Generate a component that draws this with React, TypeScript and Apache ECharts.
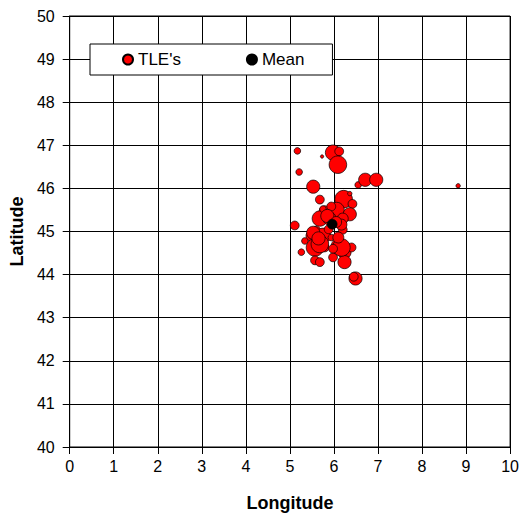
import React, { useEffect, useRef } from "react";
import * as echarts from "echarts";

// TLE points: longitude, latitude, bubble magnitude
const tleLon = [5.17, 5.73, 5.98, 6.12, 6.09, 5.21, 5.53, 6.55, 6.71, 6.96, 8.82, 5.68, 6.22, 6.36, 6.42, 5.79, 6.06, 6.36, 5.68, 5.90, 6.20, 5.11, 5.60, 6.20, 5.49, 5.75, 5.94, 5.34, 5.57, 5.79, 6.09, 6.24, 6.40, 5.26, 5.57, 5.68, 5.98, 6.24, 6.49, 6.45, 5.94, 6.17, 5.53, 5.68, 6.17, 5.75, 5.98, 5.85, 6.05, 5.65, 6.10, 5.88];
const tleLat = [46.87, 46.74, 46.83, 46.86, 46.55, 46.38, 46.04, 46.08, 46.20, 46.20, 46.06, 45.74, 45.75, 45.88, 45.64, 45.47, 45.50, 45.40, 45.30, 45.30, 45.30, 45.14, 45.02, 45.04, 44.90, 44.90, 44.86, 44.78, 44.63, 44.63, 44.67, 44.52, 44.63, 44.52, 44.33, 44.29, 44.40, 44.29, 43.91, 43.95, 45.58, 45.16, 44.97, 44.71, 44.63, 45.52, 44.60, 45.36, 45.22, 44.84, 44.86, 45.05];
const tleMag = [3, 1.5, 7, 4, 8, 3, 6, 3, 6, 6, 2, 4, 8, 2, 4, 5, 7, 6, 7, 6, 5, 4, 4, 4, 5, 7, 3, 3, 8, 4, 6, 6, 4, 3, 4, 4, 4, 6, 6, 4, 4, 5, 6, 8, 8, 3, 4, 6, 5, 6, 5, 4];

const meanLon = [5.96];
const meanLat = [45.17];
const meanMag = [4.5];

const xTicks = [0, 1, 2, 3, 4, 5, 6, 7, 8, 9, 10];
const yTicks = [40, 41, 42, 43, 44, 45, 46, 47, 48, 49, 50];

export default function App() {
  const ref = useRef<HTMLDivElement>(null);
  useEffect(() => {
    if (!ref.current) return;
    const chart = echarts.init(ref.current, undefined, { renderer: "svg" });
    const tleData = tleLon.map((x, i) => [x, tleLat[i], tleMag[i]]);
    const meanData = meanLon.map((x, i) => [x, meanLat[i], meanMag[i]]);
    const font = "'Liberation Sans', Arial, sans-serif";
    const axisCommon = {
      type: "value" as const,
      interval: 1,
      axisLine: { show: true, lineStyle: { color: "#000", width: 1 } },
      axisTick: { show: true, inside: false, length: 7, lineStyle: { color: "#000" } },
      splitLine: { show: true, lineStyle: { color: "#000", width: 1 } },
      axisLabel: { color: "#000", fontSize: 16, fontFamily: font },
      nameLocation: "middle" as const,
      nameTextStyle: { color: "#000", fontSize: 18, fontWeight: "bold" as const, fontFamily: font },
    };
    chart.setOption({
      animation: false,
      backgroundColor: "#fff",
      grid: { left: 69, right: 11, top: 16, bottom: 62, show: true, borderColor: "#000", borderWidth: 1 },
      xAxis: {
        ...axisCommon,
        min: xTicks[0],
        max: xTicks[xTicks.length - 1],
        name: "Longitude",
        nameGap: 47,
        axisLabel: { ...axisCommon.axisLabel, margin: 11 },
      },
      yAxis: {
        ...axisCommon,
        min: yTicks[0],
        max: yTicks[yTicks.length - 1],
        name: "Latitude",
        nameGap: 42,
        axisLabel: { ...axisCommon.axisLabel, margin: 15 },
      },
      legend: {
        left: 90,
        top: 44,
        orient: "horizontal",
        backgroundColor: "#fff",
        borderColor: "#000",
        borderWidth: 1,
        borderRadius: 0,
        padding: [7, 28, 7, 32],
        itemGap: 65,
        itemWidth: 10,
        itemHeight: 10,
        icon: "circle",
        textStyle: { color: "#000", fontSize: 17, fontFamily: font },
        data: ["TLE's", "Mean"],
      },
      series: [
        {
          name: "TLE's",
          type: "scatter",
          data: tleData,
          symbol: "circle",
          symbolSize: (d: number[]) => d[2] * 2.2,
          itemStyle: { color: "#ff0000", borderColor: "#000", borderWidth: 0.7, opacity: 1 },
          z: 3,
        },
        {
          name: "Mean",
          type: "scatter",
          data: meanData,
          symbol: "circle",
          symbolSize: (d: number[]) => d[2] * 2.2,
          itemStyle: { color: "#000", borderColor: "#000", borderWidth: 0.7, opacity: 1 },
          z: 4,
        },
      ],
    });
    return () => chart.dispose();
  }, []);
  return (
    <div
      ref={ref}
      style={{ position: "fixed", left: 0, top: 0, width: 522, height: 517, background: "#fff" }}
    />
  );
}
